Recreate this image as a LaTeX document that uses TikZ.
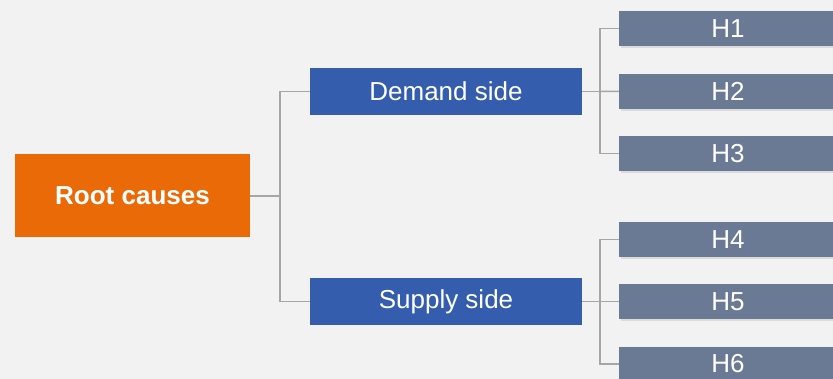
\documentclass[tikz,border=0pt]{standalone}
\usepackage{fontspec}
\setmainfont{Liberation Sans}
\usetikzlibrary{shadows}
\definecolor{bgcol}{HTML}{F2F2F2}
\definecolor{rootcol}{HTML}{EB6A08}
\definecolor{sidecol}{HTML}{345DAD}
\definecolor{hypcol}{HTML}{6A7A94}
\definecolor{linecol}{HTML}{A6A6A6}
\begin{document}
\begin{tikzpicture}[x=1pt,y=-1pt,
  box/.style={inner sep=0pt,text=white,font=\fontsize{26}{30}\selectfont},
  rootbox/.style={box,fill=rootcol,minimum width=235pt,minimum height=83pt,font=\fontsize{26}{30}\selectfont\bfseries},
  sidebox/.style={box,fill=sidecol,minimum width=272pt,minimum height=47pt},
  hypbox/.style={box,fill=hypcol,minimum width=218pt,minimum height=34.5pt,
    drop shadow={opacity=0.2,shadow xshift=1.5pt,shadow yshift=-2pt}},
  conn/.style={draw=linecol,line width=1.5pt}]
\fill[bgcol] (0,0) rectangle (833,379);
\useasboundingbox (0,0) rectangle (833,379);
\node[rootbox] (root) at (132.5,196) {Root causes};
\node[sidebox] (demand) at (446,91.5) {Demand side};
\node[sidebox] (supply) at (446,301.5) {Supply side};
\node[hypbox] (h1) at (728,28.5) {H1};
\node[hypbox] (h2) at (728,91.3) {H2};
\node[hypbox] (h3) at (728,153.3) {H3};
\node[hypbox] (h4) at (728,239.5) {H4};
\node[hypbox] (h5) at (728,301.5) {H5};
\node[hypbox] (h6) at (728,364) {H6};
% root to the two sides
\draw[conn] (root.east) -- ++(30,0) coordinate (rj) |- (demand.west);
\draw[conn] (rj) |- (supply.west);
% demand side hypotheses
\draw[conn] (demand.east) -- ++(18,0) coordinate (dj) |- (h1.west);
\draw[conn] (dj) -- (h2.west);
\draw[conn] (dj) |- (h3.west);
% supply side hypotheses
\draw[conn] (supply.east) -- ++(18,0) coordinate (sj) |- (h4.west);
\draw[conn] (sj) -- (h5.west);
\draw[conn] (sj) |- (h6.west);
\end{tikzpicture}
\end{document}
